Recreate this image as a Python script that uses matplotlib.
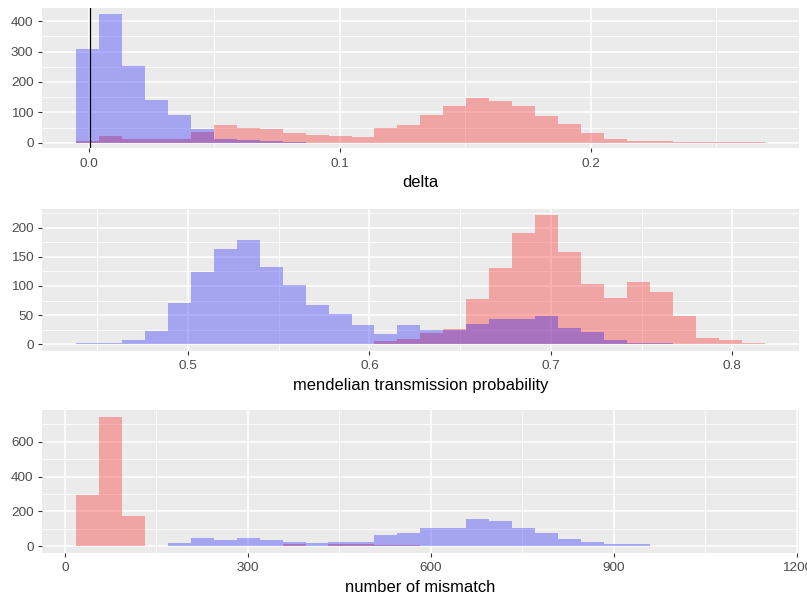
import numpy as np
import matplotlib
matplotlib.use("Agg")
import matplotlib.pyplot as plt
from matplotlib.ticker import MultipleLocator

plt.rcParams['font.family'] = ['Liberation Sans', 'DejaVu Sans']

# ---- data: 30 shared bins per panel, counts ----
# panel 1: delta
delta_start, delta_width = -0.00507, 0.009142
delta_red = [7, 23, 11, 14, 11, 34, 59, 48, 44, 33, 26, 22, 18, 48, 58,
             92, 121, 147, 139, 121, 88, 62, 33, 11, 7, 7, 3, 3, 3, 3]
delta_blue = [307, 423, 252, 142, 93, 45, 11, 10, 6, 3, 0, 0, 0, 0, 0,
              0, 0, 0, 0, 0, 0, 0, 0, 0, 0, 0, 0, 0, 0, 0]
delta_vline = 0.0003

# panel 2: mendelian transmission probability
mtp_start, mtp_width = 0.43829, 0.012652
mtp_red = [0, 0, 0, 0, 0, 0, 0, 0, 0, 0, 0, 0, 0, 6, 9,
           20, 27, 78, 131, 190, 221, 158, 104, 79, 107, 90, 49, 10, 8, 3]
mtp_blue = [2, 2, 7, 23, 70, 124, 163, 178, 133, 101, 67, 52, 33, 17, 33,
            25, 25, 35, 44, 44, 48, 28, 21, 7, 2, 2, 0, 0, 0, 0]

# panel 3: number of mismatch
mm_start, mm_width = 18.6, 37.6
mm_red = [297, 745, 174, 0, 0, 0, 0, 0, 0, 11, 4, 13, 13, 8, 8,
          0, 0, 0, 0, 0, 0, 0, 0, 0, 0, 0, 0, 0, 0, 0]
mm_blue = [0, 0, 0, 0, 18, 46, 37, 46, 38, 27, 18, 27, 27, 62, 78,
           105, 105, 158, 145, 104, 77, 39, 25, 12, 12, 0, 0, 0, 0, 0]

W, H = 807, 596
fig = plt.figure(figsize=(W / 100, H / 100), dpi=100)
fig.patch.set_facecolor('white')


def panel(top, bottom, start, width, red, blue, xlim, ylim, xmaj, ymaj, xlabel):
    ax = fig.add_axes([41.7 / W, 1 - bottom / H, (799 - 41.7) / W, (bottom - top) / H])
    ax.set_facecolor('#EBEBEB')
    for s in ax.spines.values():
        s.set_visible(False)
    edges = np.linspace(start, start + width * len(red), len(red) + 1)
    ax.stairs(red, edges, fill=True, color='red', alpha=0.3, linewidth=0)
    ax.stairs(blue, edges, fill=True, color='blue', alpha=0.3, linewidth=0)
    ax.set_xlim(*xlim)
    ax.set_ylim(*ylim)
    ax.xaxis.set_major_locator(MultipleLocator(xmaj))
    ax.xaxis.set_minor_locator(MultipleLocator(xmaj / 2))
    ax.yaxis.set_major_locator(MultipleLocator(ymaj))
    ax.yaxis.set_minor_locator(MultipleLocator(ymaj / 2))
    ax.set_axisbelow(True)
    ax.grid(which='major', color='white', linewidth=1.1)
    ax.grid(which='minor', color='white', linewidth=0.55)
    ax.tick_params(which='major', length=2.7, width=0.8, color='#333333',
                   labelcolor='#4D4D4D', labelsize=9.7)
    ax.tick_params(axis='x', pad=4.0)
    ax.tick_params(axis='y', pad=3.2)
    ax.tick_params(which='minor', length=0)
    ax.set_xlabel(xlabel, fontsize=11.9, color='black', labelpad=4)
    return ax


ax1 = panel(8.3, 148.3, delta_start, delta_width, delta_red, delta_blue,
            (-0.0188, 0.2829), (-18, 442), 0.1, 100, 'delta')
ax1.axvline(delta_vline, color='black', linewidth=0.9)
ax1.xaxis.set_major_formatter(plt.FuncFormatter(lambda v, p: f'{v:.1f}'))

ax2 = panel(209, 350.7, mtp_start, mtp_width, mtp_red, mtp_blue,
            (0.4193, 0.8368), (-11, 232), 0.1, 50, 'mendelian transmission probability')
ax2.xaxis.set_major_formatter(plt.FuncFormatter(lambda v, p: f'{v:.1f}'))

ax3 = panel(410, 552.7, mm_start, mm_width, mm_red, mm_blue,
            (-37.8, 1203.5), (-37, 783), 300, 200, 'number of mismatch')
ax3.yaxis.set_minor_locator(MultipleLocator(100))

fig.savefig('out.png', dpi=100)
